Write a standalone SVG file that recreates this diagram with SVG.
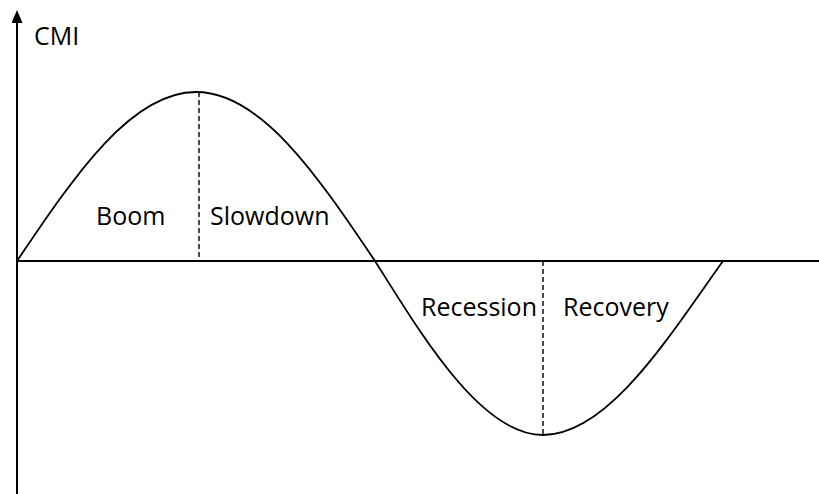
<svg xmlns="http://www.w3.org/2000/svg" width="819" height="494" viewBox="0 0 819 494">
<style>
.t{font-family:"Open Sans","Noto Sans",sans-serif;font-size:25px;fill:#000}
.ax{stroke:#000;stroke-width:2;fill:none}
.c{stroke:#000;stroke-width:1.8;fill:none}
.d{stroke:#000;stroke-width:1.4;stroke-dasharray:5,3;fill:none}
</style>
<defs>
<marker id="ah" markerWidth="13" markerHeight="11" refX="10" refY="5.5" orient="auto" markerUnits="userSpaceOnUse" viewBox="0 0 13 11">
<path d="M0,0 L13,5.5 L0,11 Z" fill="#000"/>
</marker>
</defs>
<g id="connectors">
<line class="ax" x1="17" y1="494" x2="17" y2="13" marker-end="url(#ah)"/>
<line class="ax" x1="17" y1="261" x2="819" y2="261"/>
<path class="c" d="M17,261 C75.4,174.4 131.2,92 196,92 C260.8,92 316.6,174.4 375,261 C420,332 480,435 543,435 C608,435 668,338 723,261"/>
<line class="d" x1="199" y1="92" x2="199" y2="261"/>
<line class="d" x1="543" y1="261" x2="543" y2="435"/>
</g>
<g id="cmi"><text class="t" x="34" y="45">CMI</text></g>
<g id="boom"><text class="t" x="96" y="225">Boom</text></g>
<g id="slowdown"><text class="t" x="210" y="225">Slowdown</text></g>
<g id="recession"><text class="t" x="421" y="316">Recession</text></g>
<g id="recovery"><text class="t" x="563" y="316">Recovery</text></g>
</svg>
